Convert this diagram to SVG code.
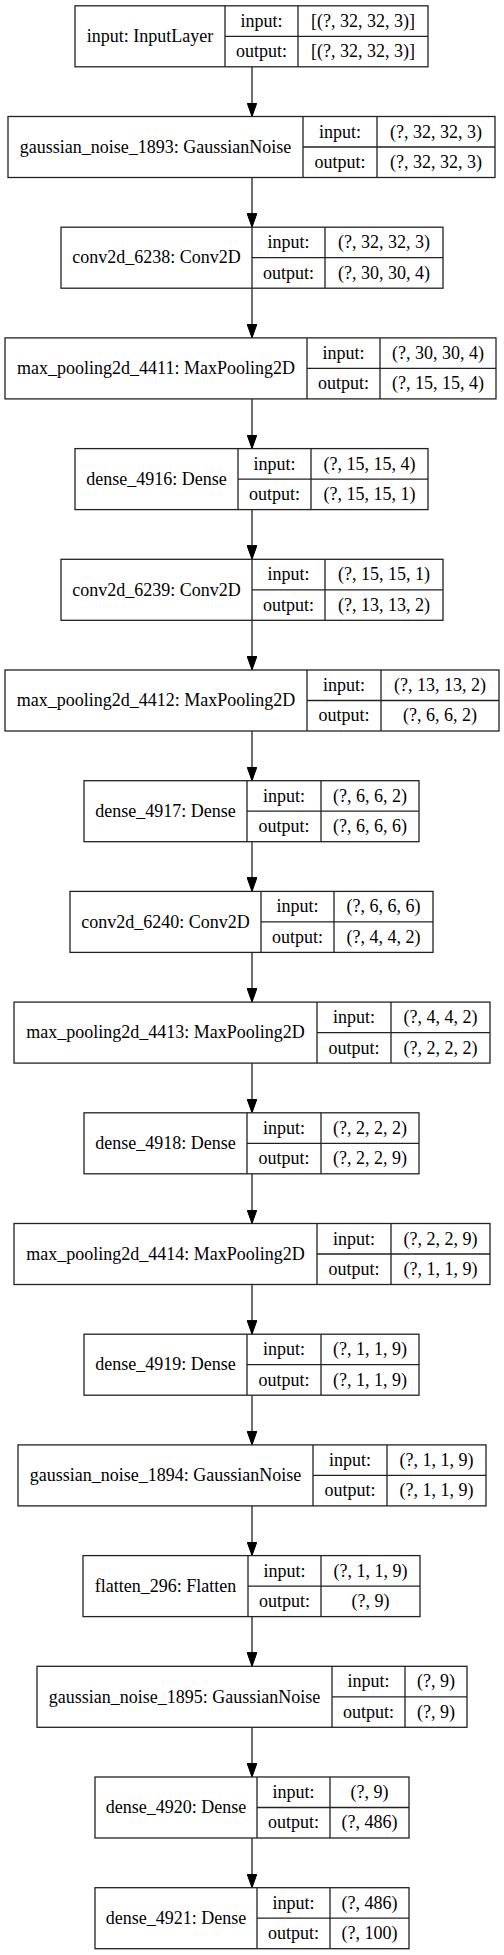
<svg xmlns="http://www.w3.org/2000/svg" width="504" height="1955" viewBox="0 0 504 1955">
<defs>
<style>
.b{fill:#fff;stroke:#222;stroke-width:1.3}
.l{stroke:#222;stroke-width:1.3;fill:none}
text{font-family:"Liberation Serif","Times New Roman",serif;font-size:18px;fill:#000;text-anchor:middle}
</style>
<marker id="ah" viewBox="0 0 14 10" refX="14" refY="5" markerWidth="14" markerHeight="10" markerUnits="userSpaceOnUse" orient="auto">
<path d="M0,0 L14,5 L0,10 z" fill="#000" stroke="#000" stroke-width="1"/>
</marker>
</defs>
<rect width="504" height="1955" fill="#fff"/>
<g id="connectors">
<line class="l" x1="252" y1="66.8" x2="252" y2="116.5" marker-end="url(#ah)"/>
<line class="l" x1="252" y1="177.5" x2="252" y2="227.2" marker-end="url(#ah)"/>
<line class="l" x1="252" y1="288.2" x2="252" y2="337.9" marker-end="url(#ah)"/>
<line class="l" x1="252" y1="398.9" x2="252" y2="448.6" marker-end="url(#ah)"/>
<line class="l" x1="252" y1="509.6" x2="252" y2="559.3" marker-end="url(#ah)"/>
<line class="l" x1="252" y1="620.3" x2="252" y2="670" marker-end="url(#ah)"/>
<line class="l" x1="252" y1="731" x2="252" y2="780.7" marker-end="url(#ah)"/>
<line class="l" x1="252" y1="841.7" x2="252" y2="891.4" marker-end="url(#ah)"/>
<line class="l" x1="252" y1="952.4" x2="252" y2="1002.1" marker-end="url(#ah)"/>
<line class="l" x1="252" y1="1063.1" x2="252" y2="1112.8" marker-end="url(#ah)"/>
<line class="l" x1="252" y1="1173.8" x2="252" y2="1223.5" marker-end="url(#ah)"/>
<line class="l" x1="252" y1="1284.5" x2="252" y2="1334.2" marker-end="url(#ah)"/>
<line class="l" x1="252" y1="1395.2" x2="252" y2="1444.9" marker-end="url(#ah)"/>
<line class="l" x1="252" y1="1505.9" x2="252" y2="1555.6" marker-end="url(#ah)"/>
<line class="l" x1="252" y1="1616.6" x2="252" y2="1666.3" marker-end="url(#ah)"/>
<line class="l" x1="252" y1="1727.3" x2="252" y2="1777" marker-end="url(#ah)"/>
<line class="l" x1="252" y1="1838" x2="252" y2="1887.7" marker-end="url(#ah)"/>
</g>
<g id="n0">
<rect class="b" x="75" y="5.8" width="353" height="61"/>
<path class="l" d="M225,5.8V66.8M298,5.8V66.8M225,36.3H428"/>
<text x="150" y="42">input: InputLayer</text>
<text x="261.5" y="26.8">input:</text><text x="363" y="26.8">[(?, 32, 32, 3)]</text>
<text x="261.5" y="57.2">output:</text><text x="363" y="57.2">[(?, 32, 32, 3)]</text>
</g>
<g id="n1">
<rect class="b" x="8" y="116.5" width="487" height="61"/>
<path class="l" d="M303,116.5V177.5M377,116.5V177.5M303,147H495"/>
<text x="155.5" y="152.7">gaussian_noise_1893: GaussianNoise</text>
<text x="340" y="137.5">input:</text><text x="436" y="137.5">(?, 32, 32, 3)</text>
<text x="340" y="167.9">output:</text><text x="436" y="167.9">(?, 32, 32, 3)</text>
</g>
<g id="n2">
<rect class="b" x="61" y="227.2" width="382" height="61"/>
<path class="l" d="M252,227.2V288.2M325,227.2V288.2M252,257.7H443"/>
<text x="156.5" y="263.4">conv2d_6238: Conv2D</text>
<text x="288.5" y="248.2">input:</text><text x="384" y="248.2">(?, 32, 32, 3)</text>
<text x="288.5" y="278.6">output:</text><text x="384" y="278.6">(?, 30, 30, 4)</text>
</g>
<g id="n3">
<rect class="b" x="5" y="337.9" width="491" height="61"/>
<path class="l" d="M307,337.9V398.9M380,337.9V398.9M307,368.4H496"/>
<text x="156" y="374.1">max_pooling2d_4411: MaxPooling2D</text>
<text x="343.5" y="358.9">input:</text><text x="438" y="358.9">(?, 30, 30, 4)</text>
<text x="343.5" y="389.3">output:</text><text x="438" y="389.3">(?, 15, 15, 4)</text>
</g>
<g id="n4">
<rect class="b" x="75" y="448.6" width="353" height="61"/>
<path class="l" d="M238,448.6V509.6M311,448.6V509.6M238,479.1H428"/>
<text x="156.5" y="484.8">dense_4916: Dense</text>
<text x="274.5" y="469.6">input:</text><text x="369.5" y="469.6">(?, 15, 15, 4)</text>
<text x="274.5" y="500">output:</text><text x="369.5" y="500">(?, 15, 15, 1)</text>
</g>
<g id="n5">
<rect class="b" x="61" y="559.3" width="382" height="61"/>
<path class="l" d="M252,559.3V620.3M325,559.3V620.3M252,589.8H443"/>
<text x="156.5" y="595.5">conv2d_6239: Conv2D</text>
<text x="288.5" y="580.3">input:</text><text x="384" y="580.3">(?, 15, 15, 1)</text>
<text x="288.5" y="610.7">output:</text><text x="384" y="610.7">(?, 13, 13, 2)</text>
</g>
<g id="n6">
<rect class="b" x="5" y="670" width="494" height="61"/>
<path class="l" d="M307,670V731M381,670V731M307,700.5H499"/>
<text x="156" y="706.2">max_pooling2d_4412: MaxPooling2D</text>
<text x="344" y="691">input:</text><text x="440" y="691">(?, 13, 13, 2)</text>
<text x="344" y="721.4">output:</text><text x="440" y="721.4">(?, 6, 6, 2)</text>
</g>
<g id="n7">
<rect class="b" x="84" y="780.7" width="335" height="61"/>
<path class="l" d="M247,780.7V841.7M321,780.7V841.7M247,811.2H419"/>
<text x="165.5" y="816.9">dense_4917: Dense</text>
<text x="284" y="801.7">input:</text><text x="370" y="801.7">(?, 6, 6, 2)</text>
<text x="284" y="832.1">output:</text><text x="370" y="832.1">(?, 6, 6, 6)</text>
</g>
<g id="n8">
<rect class="b" x="70" y="891.4" width="363" height="61"/>
<path class="l" d="M261,891.4V952.4M334,891.4V952.4M261,921.9H433"/>
<text x="165.5" y="927.6">conv2d_6240: Conv2D</text>
<text x="297.5" y="912.4">input:</text><text x="383.5" y="912.4">(?, 6, 6, 6)</text>
<text x="297.5" y="942.8">output:</text><text x="383.5" y="942.8">(?, 4, 4, 2)</text>
</g>
<g id="n9">
<rect class="b" x="14" y="1002.1" width="476" height="61"/>
<path class="l" d="M317,1002.1V1063.1M391,1002.1V1063.1M317,1032.6H490"/>
<text x="165.5" y="1038.3">max_pooling2d_4413: MaxPooling2D</text>
<text x="354" y="1023.1">input:</text><text x="440.5" y="1023.1">(?, 4, 4, 2)</text>
<text x="354" y="1053.5">output:</text><text x="440.5" y="1053.5">(?, 2, 2, 2)</text>
</g>
<g id="n10">
<rect class="b" x="84" y="1112.8" width="335" height="61"/>
<path class="l" d="M247,1112.8V1173.8M321,1112.8V1173.8M247,1143.3H419"/>
<text x="165.5" y="1149">dense_4918: Dense</text>
<text x="284" y="1133.8">input:</text><text x="370" y="1133.8">(?, 2, 2, 2)</text>
<text x="284" y="1164.2">output:</text><text x="370" y="1164.2">(?, 2, 2, 9)</text>
</g>
<g id="n11">
<rect class="b" x="14" y="1223.5" width="476" height="61"/>
<path class="l" d="M317,1223.5V1284.5M391,1223.5V1284.5M317,1254H490"/>
<text x="165.5" y="1259.7">max_pooling2d_4414: MaxPooling2D</text>
<text x="354" y="1244.5">input:</text><text x="440.5" y="1244.5">(?, 2, 2, 9)</text>
<text x="354" y="1274.9">output:</text><text x="440.5" y="1274.9">(?, 1, 1, 9)</text>
</g>
<g id="n12">
<rect class="b" x="84" y="1334.2" width="335" height="61"/>
<path class="l" d="M247,1334.2V1395.2M321,1334.2V1395.2M247,1364.7H419"/>
<text x="165.5" y="1370.4">dense_4919: Dense</text>
<text x="284" y="1355.2">input:</text><text x="370" y="1355.2">(?, 1, 1, 9)</text>
<text x="284" y="1385.6">output:</text><text x="370" y="1385.6">(?, 1, 1, 9)</text>
</g>
<g id="n13">
<rect class="b" x="18" y="1444.9" width="468" height="61"/>
<path class="l" d="M313,1444.9V1505.9M387,1444.9V1505.9M313,1475.4H486"/>
<text x="165.5" y="1481.1">gaussian_noise_1894: GaussianNoise</text>
<text x="350" y="1465.9">input:</text><text x="436.5" y="1465.9">(?, 1, 1, 9)</text>
<text x="350" y="1496.3">output:</text><text x="436.5" y="1496.3">(?, 1, 1, 9)</text>
</g>
<g id="n14">
<rect class="b" x="83" y="1555.6" width="337" height="61"/>
<path class="l" d="M248,1555.6V1616.6M321,1555.6V1616.6M248,1586.1H420"/>
<text x="165.5" y="1591.8">flatten_296: Flatten</text>
<text x="284.5" y="1576.6">input:</text><text x="370.5" y="1576.6">(?, 1, 1, 9)</text>
<text x="284.5" y="1607">output:</text><text x="370.5" y="1607">(?, 9)</text>
</g>
<g id="n15">
<rect class="b" x="37" y="1666.3" width="430" height="61"/>
<path class="l" d="M332,1666.3V1727.3M405,1666.3V1727.3M332,1696.8H467"/>
<text x="184.5" y="1702.5">gaussian_noise_1895: GaussianNoise</text>
<text x="368.5" y="1687.3">input:</text><text x="436" y="1687.3">(?, 9)</text>
<text x="368.5" y="1717.7">output:</text><text x="436" y="1717.7">(?, 9)</text>
</g>
<g id="n16">
<rect class="b" x="95" y="1777" width="314" height="61"/>
<path class="l" d="M257,1777V1838M330,1777V1838M257,1807.5H409"/>
<text x="176" y="1813.2">dense_4920: Dense</text>
<text x="293.5" y="1798">input:</text><text x="369.5" y="1798">(?, 9)</text>
<text x="293.5" y="1828.4">output:</text><text x="369.5" y="1828.4">(?, 486)</text>
</g>
<g id="n17">
<rect class="b" x="95" y="1887.7" width="314" height="61"/>
<path class="l" d="M257,1887.7V1948.7M330,1887.7V1948.7M257,1918.2H409"/>
<text x="176" y="1923.9">dense_4921: Dense</text>
<text x="293.5" y="1908.7">input:</text><text x="369.5" y="1908.7">(?, 486)</text>
<text x="293.5" y="1939.1">output:</text><text x="369.5" y="1939.1">(?, 100)</text>
</g>
</svg>
